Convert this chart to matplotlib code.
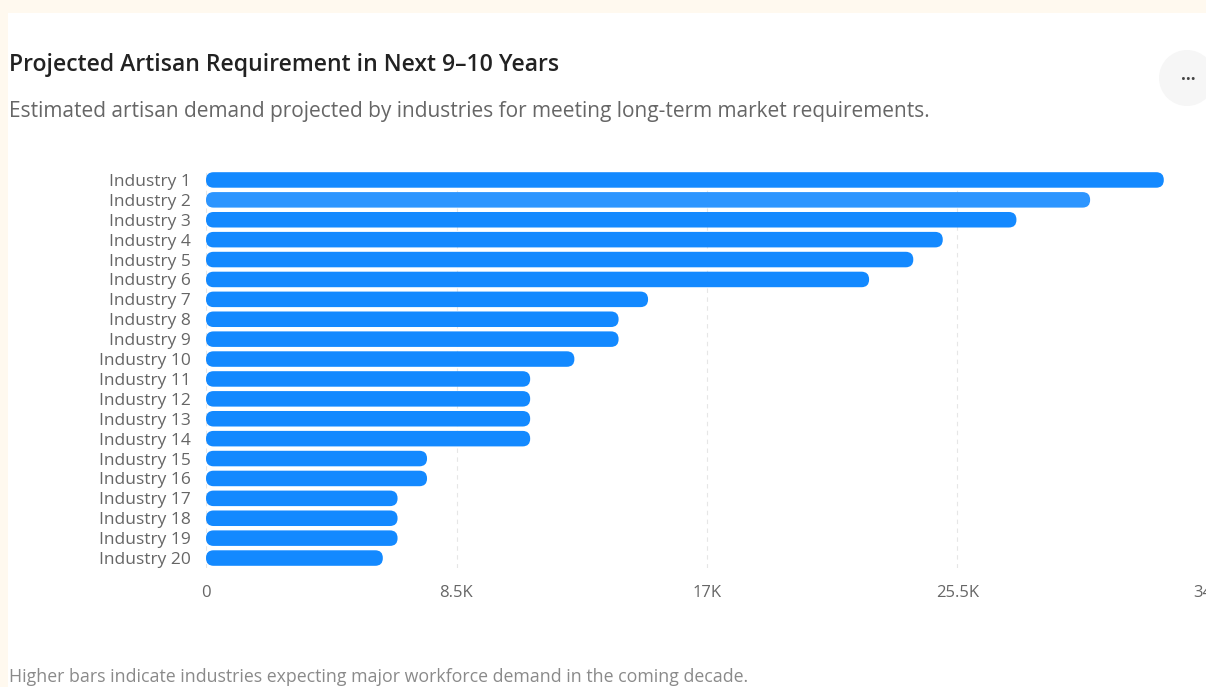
import matplotlib.pyplot as plt
from matplotlib.patches import FancyBboxPatch, Rectangle, Ellipse
from matplotlib.ticker import FixedLocator

plt.rcParams['font.family'] = ['Open Sans', 'DejaVu Sans']

industries = ['Industry %d' % i for i in range(1, 21)]
demand = [32500, 30000, 27500, 25000, 24000, 22500, 15000, 14000, 14000, 12500,
          11000, 11000, 11000, 11000, 7500, 7500, 6500, 6500, 6500, 6000]
tick_vals = [0, 8500, 17000, 25500, 34000]
tick_labels = ['0', '8.5K', '17K', '25.5K', '34K']

W, H = 1206, 687
fig = plt.figure(figsize=(W / 100, H / 100), dpi=100)
fig.patch.set_facecolor('#fff9ef')

# white card behind everything
fig.patches.append(Rectangle((8 / W, 0), 1, 1 - 13 / H, transform=fig.transFigure,
                             facecolor='white', edgecolor='none', zorder=-5))
# menu button
fig.patches.append(Ellipse((1187 / W, 1 - 78 / H), 56 / W, 56 / H, transform=fig.transFigure,
                           facecolor='#f6f6f6', edgecolor='none', zorder=-4))
fig.text(1188 / W, 1 - 75 / H, '...', ha='center', va='center', fontsize=12,
         color='#444444', fontweight='bold')

fig.text(9 / W, 1 - 65 / H, 'Projected Artisan Requirement in Next 9\u201310 Years',
         fontsize=16.6, fontweight='semibold', color='#222222', va='center')
fig.text(9 / W, 1 - 112 / H,
         'Estimated artisan demand projected by industries for meeting long-term market requirements.',
         fontsize=15, color='#666666', va='center')
fig.text(9 / W, 1 - 677 / H,
         'Higher bars indicate industries expecting major workforce demand in the coming decade.',
         fontsize=12.8, color='#8a8a8a', va='center')

ax = fig.add_axes([206 / W, 1 - 568 / H, 1002 / W, 398 / H])
ax.set_facecolor('none')
ax.set_zorder(2)
ax.set_xlim(0, 34000)
ax.set_ylim(19.5, -0.5)

bars = ax.barh(range(len(industries)), demand, height=0.78)

# swap plain bars for rounded ones
px_x = 1002 / 34000          # pixels per x unit
px_y = 398 / 20              # pixels per y unit
r_px = 7.6
for i, b in enumerate(bars):
    x0, y0 = b.get_x(), b.get_y()
    w, h = b.get_width(), b.get_height()
    b.set_visible(False)
    color = '#2c95ff' if i == 1 else '#1389ff'
    ax.add_patch(FancyBboxPatch((x0, y0), w, h,
                                boxstyle='round,pad=0,rounding_size=%f' % (r_px / px_x),
                                mutation_aspect=(1 / px_y) / (1 / px_x),
                                facecolor=color, edgecolor='none', zorder=3))

ax.xaxis.set_major_locator(FixedLocator(tick_vals))
ax.set_xticklabels(tick_labels)
ax.set_yticks(range(len(industries)))
ax.set_yticklabels(industries)
ax.tick_params(axis='x', length=0, pad=12, labelsize=12, labelcolor='#666666')
ax.tick_params(axis='y', length=0, pad=11, labelsize=12.5, labelcolor='#666666')
ax.grid(axis='x', color='#e6e6e6', linestyle=(0, (4, 4)), linewidth=0.8, zorder=0)
for s in ax.spines.values():
    s.set_visible(False)

fig.savefig('out.png', dpi=100)
